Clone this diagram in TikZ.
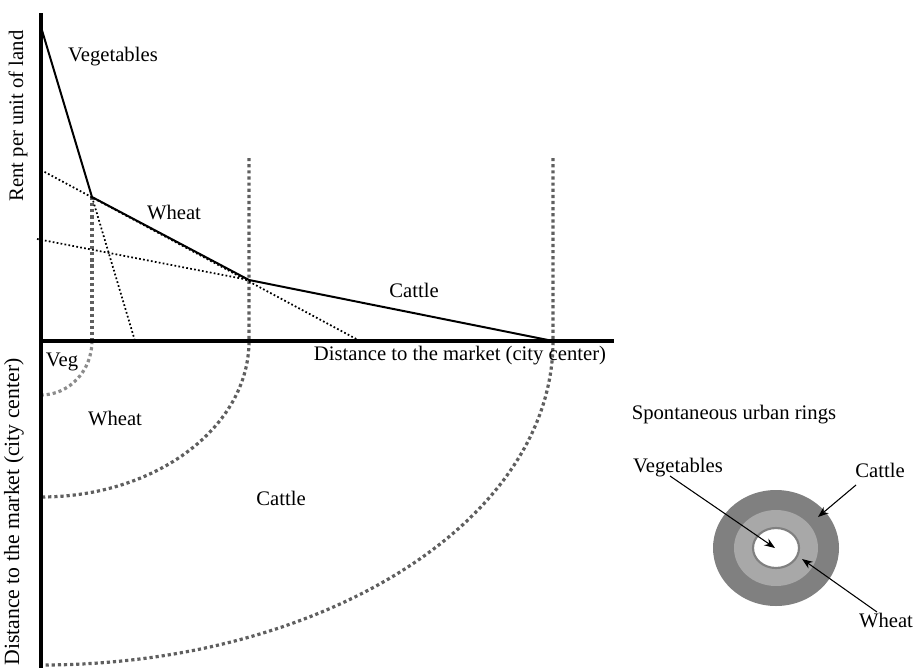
\documentclass[tikz,border=0pt]{standalone}
\usepackage{fontspec}
\setmainfont{Liberation Serif}
\usetikzlibrary{arrows.meta}
\definecolor{zonegray}{RGB}{95,95,95}
\definecolor{veggray}{RGB}{140,140,140}
\definecolor{ringdark}{RGB}{128,128,128}
\definecolor{ringlight}{RGB}{168,168,168}
\begin{document}
\begin{tikzpicture}[x=0.75pt,y=-0.75pt,
  axis/.style={line width=3pt},
  rent/.style={line width=1.5pt, line join=round},
  ext/.style={line width=1.3pt, dash pattern=on 1.3pt off 1.7pt},
  zone/.style={line width=2.4pt, dash pattern=on 2.4pt off 2.2pt, color=zonegray},
  vegzone/.style={zone, color=veggray},
  lbl/.style={font=\fontsize{15.5}{18}\selectfont, inner sep=0pt},
  ptr/.style={-{Stealth[length=8pt,width=6pt]}, line width=0.8pt}]

\useasboundingbox (0,0) rectangle (917,668);

% axes and key points of the rent curves
\coordinate (O) at (41,341);
\coordinate (ytop) at (41,13);
\coordinate (ybot) at (41,668);
\coordinate (xend) at (614,341);
\coordinate (r0) at (41,27);
\coordinate (k1) at (92,197);
\coordinate (k2) at (249,280);
\coordinate (r3) at (553,341);
\coordinate (w0) at (41,170);
\coordinate (w3) at (360,341);
\coordinate (v3) at (135,341);
\coordinate (c0) at (37,239);
\coordinate (z1) at (92,341);
\coordinate (z2top) at (249,158);
\coordinate (z2) at (249,341);
\coordinate (z3top) at (553,158);
\coordinate (z3) at (553,341);

% zone boundaries: vertical projections turned into rings
\draw[zone] (k1) -- (z1);
\draw[vegzone] (z1) arc[start angle=0, end angle=90, x radius=51, y radius=54];
\draw[zone] (z2top) -- (z2) arc[start angle=0, end angle=90, x radius=208, y radius=156];
\draw[zone] (z3top) -- (z3) arc[start angle=0, end angle=90, x radius=512, y radius=324];

% extended bid-rent lines
\draw[ext] (k1) -- (v3);
\draw[ext] (w0) -- (w3);
\draw[ext] (c0) -- (k2);

% bid-rent envelope
\draw[rent] (r0) -- (k1) -- (k2) -- (r3);

% axes
\draw[axis] (ytop) -- (ybot);
\draw[axis] (O) -- (xend);

% labels of the upper graph
\node[lbl] (tVeg) at (113,57) {Vegetables};
\node[lbl] (tWheat) at (174,212) {Wheat};
\node[lbl] (tCattle) at (414,290) {Cattle};
\node[lbl] (xlab) at (460,356) {Distance to the market (city center)};
\node[lbl, rotate=90] (ylab) at (18,116) {Rent per unit of land};
\node[lbl, font=\fontsize{16.3}{19}\selectfont, rotate=90] (ylab2) at (14,512) {Distance to the market (city center)};

% labels of the lower map
\node[lbl] (mVeg) at (62,362) {Veg};
\node[lbl] (mWheat) at (115,418) {Wheat};
\node[lbl] (mCattle) at (281,498) {Cattle};

% concentric rings
\coordinate (C) at (776,548);
\fill[ringdark] (C) ellipse[x radius=63, y radius=58];
\fill[ringlight] (C) ellipse[x radius=42, y radius=38];
\draw[ringdark, fill=white, line width=1.6pt] (C) ellipse[x radius=23, y radius=20];

\node[lbl] (rTitle) at (734,415) {Spontaneous urban rings};
\node[lbl] (rVeg) at (678,468) {Vegetables};
\node[lbl] (rCattle) at (880,470) {Cattle};
\node[lbl] (rWheat) at (886,620) {Wheat};

\coordinate (aVeg0) at (670,476);
\coordinate (aVeg1) at (775,548);
\coordinate (aCat0) at (856,485);
\coordinate (aCat1) at (818,517);
\coordinate (aWht0) at (877,612);
\coordinate (aWht1) at (802,559);
\draw[ptr] (aVeg0) -- (aVeg1);
\draw[ptr] (aCat0) -- (aCat1);
\draw[ptr] (aWht0) -- (aWht1);
\end{tikzpicture}
\end{document}
